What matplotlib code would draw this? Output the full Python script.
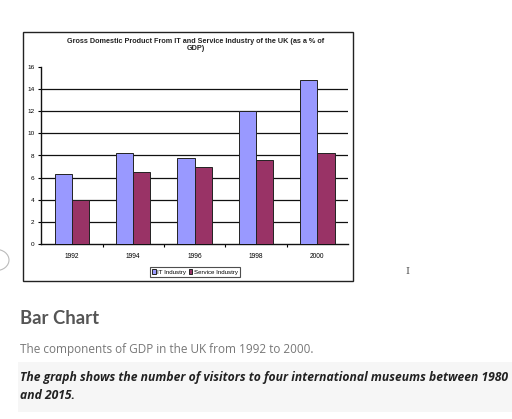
import matplotlib
matplotlib.use("Agg")
import matplotlib.pyplot as plt
from matplotlib.patches import Rectangle, Circle
import numpy as np

years = ["1992", "1994", "1996", "1998", "2000"]
it_industry = [6.3, 8.2, 7.8, 12.0, 14.8]
service_industry = [4.0, 6.5, 7.0, 7.6, 8.2]
series_names = ["IT Industry", "Service Industry"]
chart_title = "Gross Domestic Product From IT and Service Industry of the UK (as a % of\nGDP)"
yticks = [0, 2, 4, 6, 8, 10, 12, 14, 16]

W, H = 512, 419
fig = plt.figure(figsize=(W/100, H/100), dpi=100)
fig.patch.set_facecolor("white")

def fx(px): return px / W
def fy(py): return 1 - py / H

# outer chart frame
fig.patches.append(Rectangle((fx(22.7), fy(281)), fx(353.3) - fx(22.7), fy(31.7) - fy(281),
                             transform=fig.transFigure, fill=False, edgecolor="#222222", lw=1.0))
# partial circle button at left
fig.patches.append(Circle((fx(-4), fy(260)), 13/W, transform=fig.transFigure, fill=False,
                          edgecolor="#bbbbbb", lw=0.8))
# light background behind question text
fig.patches.append(Rectangle((fx(18), fy(412)), fx(512) - fx(18), fy(362) - fy(412),
                             transform=fig.transFigure, facecolor="#f6f6f6", edgecolor="none"))

ax = fig.add_axes([fx(41.3), fy(244.3), fx(348) - fx(41.3), fy(66.7) - fy(244.3)])
x = np.arange(len(years))
w = 0.28
ax.bar(x - w/2, it_industry, w, color="#9999FF", edgecolor="#222222", lw=0.7, label=series_names[0], zorder=3)
ax.bar(x + w/2, service_industry, w, color="#993366", edgecolor="#222222", lw=0.7, label=series_names[1], zorder=3)
ax.set_xlim(-0.5, len(years) - 0.5)
ax.set_ylim(0, 16)
ax.set_yticks(yticks)
ax.set_yticklabels([str(v) for v in yticks], fontsize=4.6, family="Liberation Sans")
ax.set_xticks(x)
ax.set_xticklabels(years, fontsize=4.8, family="Liberation Sans")
ax.tick_params(axis="x", length=0, pad=6)
ax.set_xticks(np.arange(0.5, len(years) - 0.5, 1), minor=True)
ax.tick_params(axis="x", which="minor", length=2, width=0.8, direction="out")
ax.tick_params(axis="y", length=2.5, width=0.8, pad=2.5)
for v in yticks[1:-1]:
    ax.axhline(v, color="#111111", lw=0.9, zorder=1)
for s in ["top", "right"]:
    ax.spines[s].set_visible(False)
for s in ["left", "bottom"]:
    ax.spines[s].set_linewidth(1.0)
    ax.spines[s].set_color("#111111")

fig.text(fx(196), fy(45), chart_title, ha="center", va="center", fontsize=5.2,
         family="Liberation Sans", fontweight="bold", color="#222222", linespacing=1.05)

leg = ax.legend(loc="center", bbox_to_anchor=(fx(195), fy(272)), bbox_transform=fig.transFigure,
                ncol=2, frameon=True, fancybox=False, edgecolor="#222222",
                handlelength=0.6, handleheight=0.8, handletextpad=0.2, columnspacing=0.4,
                borderpad=0.35, prop={"family": "Liberation Sans", "size": 4.4})
leg.get_frame().set_linewidth(0.8)

# page text
fig.text(fx(20), fy(318), "Bar Chart", ha="left", va="center", fontsize=13.3,
         family="Lato", fontweight="bold", color="#555555")
fig.text(fx(20), fy(349), "The components of GDP in the UK from 1992 to 2000.", ha="left", va="center",
         fontsize=8.5, family="Open Sans", color="#777777")
fig.text(fx(20), fy(377), "The graph shows the number of visitors to four international museums between 1980",
         ha="left", va="center", fontsize=8.75, family="Open Sans", fontweight="bold",
         fontstyle="italic", color="#222222")
fig.text(fx(20), fy(395), "and 2015.", ha="left", va="center", fontsize=8.75, family="Open Sans",
         fontweight="bold", fontstyle="italic", color="#222222")
fig.text(fx(407), fy(271), "I", ha="center", va="center", fontsize=7, family="DejaVu Serif", color="#555555")

fig.savefig("out.png", dpi=100)
